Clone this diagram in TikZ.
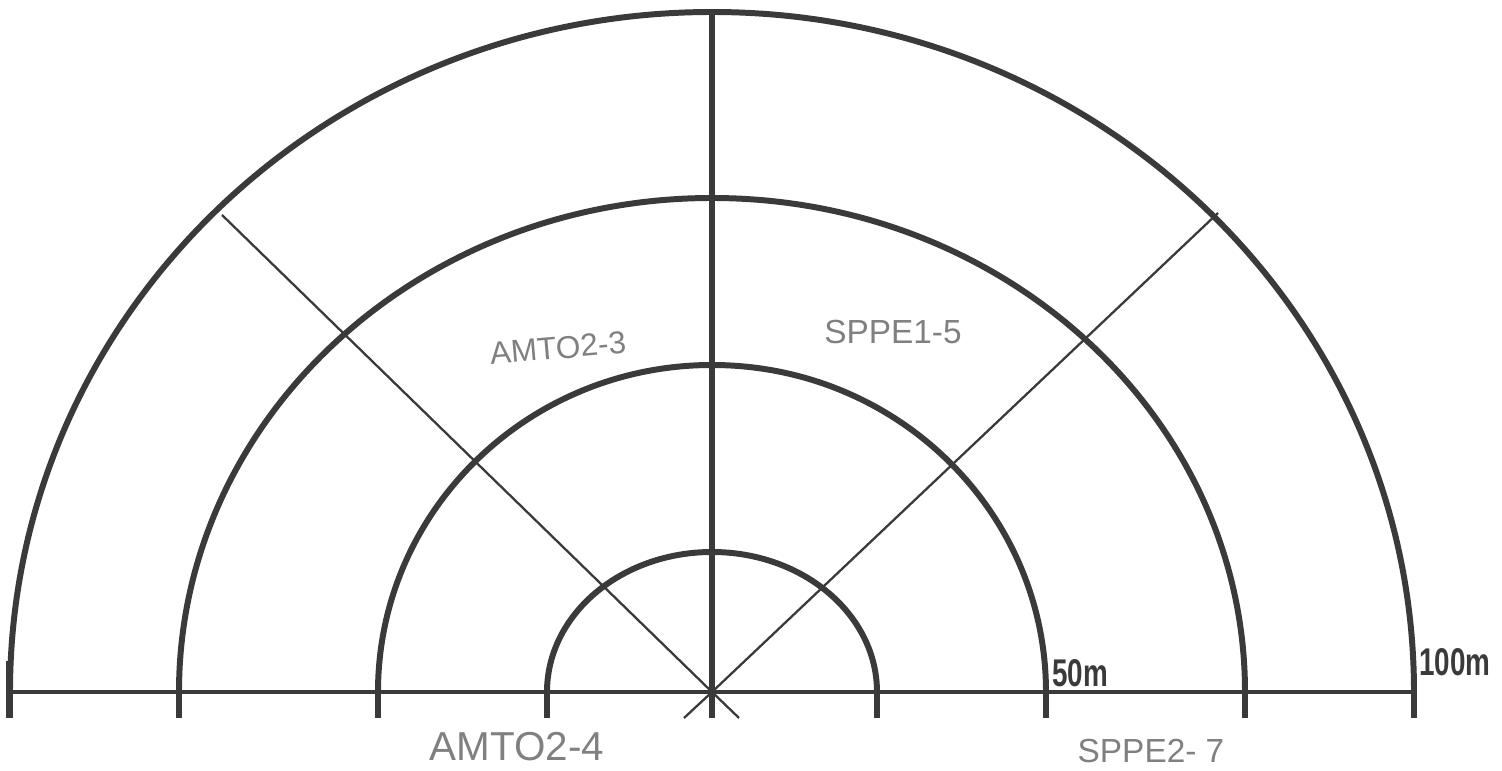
\documentclass[tikz,border=0pt]{standalone}
\usepackage{fontspec}
\setmainfont{Liberation Sans}
\usepackage{xcolor}
\usetikzlibrary{positioning,calc}
\definecolor{inkcolor}{RGB}{58, 58, 58}
\definecolor{pencilcolor}{RGB}{128, 128, 128}

\begin{document}
\begin{tikzpicture}[x=0.02cm,y=0.02cm,
  ring/.style={draw=inkcolor,line width=3.4pt},
  spoke/.style={draw=inkcolor,line width=1.3pt},
  axisline/.style={draw=inkcolor,line width=2.6pt},
  scalelabel/.style={inner sep=0pt,anchor=base west,font=\fontsize{22}{22}\selectfont\bfseries,xscale=0.72,text=inkcolor},
  handlabel/.style={inner sep=0pt,text=pencilcolor}]
\useasboundingbox (0,0) rectangle (1502,771);
\coordinate (c) at (712,79);
% baseline and scale ticks
\draw[axisline] (8,79) -- (1414,79);
\draw[axisline] (8,53) -- (8,110);
\foreach \rx/\ry in {165/140,334/327,533/494,702/680}{
  \draw[ring] ($(c)+(-\rx,-26)$) -- ($(c)+(-\rx,0)$) arc[start angle=180,end angle=0,x radius=\rx,y radius=\ry] -- ++(0,-26);
}
% spokes through the centre
\draw[axisline,line width=3pt] (712,759) -- (712,53);
\draw[spoke] (222,556) -- (c) -- (739,53);
\draw[spoke] (1218,558) -- (c) -- (684,53);
\node[scalelabel](s50) at (1052,84){50m};
\node[scalelabel](s100) at (1419,95){100m};
% pencil notes
\node[handlabel,font=\fontsize{18}{18}\selectfont,rotate=5](amt3) at (558,423){AMTO2-3};
\node[handlabel,font=\fontsize{19}{19}\selectfont](spp5) at (893,439){SPPE1-5};
\node[handlabel,font=\fontsize{23}{23}\selectfont](amt4) at (517,24){AMTO2-4};
\node[handlabel,font=\fontsize{19}{19}\selectfont](spp7) at (1151,20){SPPE2- 7};
\end{tikzpicture}
\end{document}
